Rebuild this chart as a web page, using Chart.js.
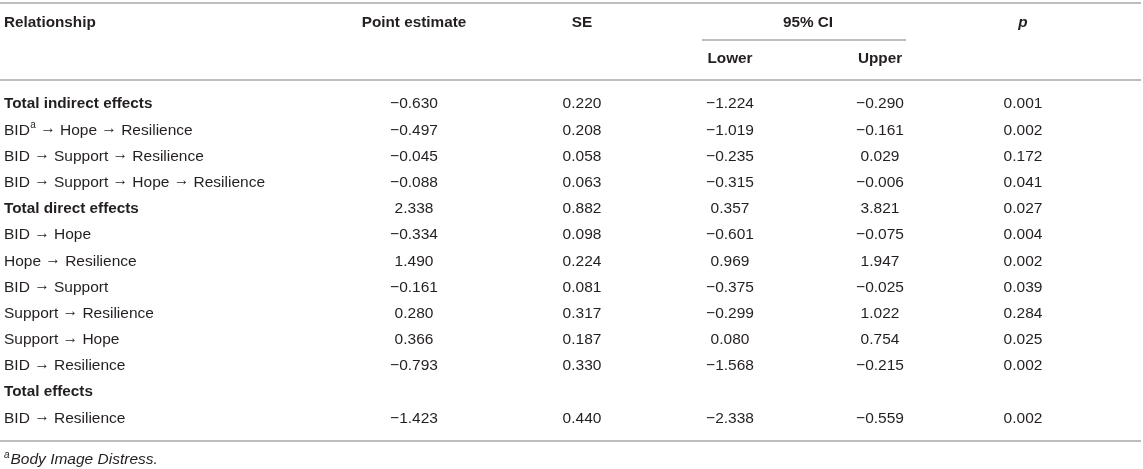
<!DOCTYPE html>
<html>
<head>
<meta charset="utf-8">
<script src="https://cdn.jsdelivr.net/npm/chart.js@4.4.1/dist/chart.umd.min.js"></script>
<style>
html,body{margin:0;padding:0;background:#ffffff;}
#wrap{width:1143px;height:469px;position:relative;}
</style>
</head>
<body>
<div id="wrap"><canvas id="c"></canvas></div>
<script>
// ---------- data ----------
const relationships = [
  'Total indirect effects',
  'BID → Hope → Resilience',
  'BID → Support → Resilience',
  'BID → Support → Hope → Resilience',
  'Total direct effects',
  'BID → Hope',
  'Hope → Resilience',
  'BID → Support',
  'Support → Resilience',
  'Support → Hope',
  'BID → Resilience',
  'Total effects',
  'BID → Resilience'
];
const rowBold = [true,false,false,false,true,false,false,false,false,false,false,true,false];
const rowNote = ['','a','','','','','','','','','','',''];
const pointEstimate = [-0.630,-0.497,-0.045,-0.088,2.338,-0.334,1.490,-0.161,0.280,0.366,-0.793,null,-1.423];
const seValues      = [0.220,0.208,0.058,0.063,0.882,0.098,0.224,0.081,0.317,0.187,0.330,null,0.440];
const ciLower       = [-1.224,-1.019,-0.235,-0.315,0.357,-0.601,0.969,-0.375,-0.299,0.080,-1.568,null,-2.338];
const ciUpper       = [-0.290,-0.161,0.029,-0.006,3.821,-0.075,1.947,-0.025,1.022,0.754,-0.215,null,-0.559];
const pValues       = [0.001,0.002,0.172,0.041,0.027,0.004,0.002,0.039,0.284,0.025,0.002,null,0.002];
const firstHeader = 'Relationship';
const columnHeaders = ['Point estimate','SE','Lower','Upper','p'];
const spanHeader = '95% CI';
const footnoteMark = 'a';
const footnoteText = 'Body Image Distress.';

// ---------- layout ----------
const FONT = '"Liberation Sans", Arial, Helvetica, sans-serif';
const COL_X = [414, 582, 730, 880, 1023];
const TEXT = '#231f20';
const RULE = '#bdbdbd';
const SIZE = 15.5;
const BOLD_SIZE = 15.3;
const columns = [pointEstimate, seValues, ciLower, ciUpper, pValues];

const fmt = v => (v < 0 ? '\u2212' : '') + Math.abs(v).toFixed(3);

function drawRich(ctx, str, x, y, size, weight) {
  const parts = str.split('→');
  parts.forEach((p, i) => {
    ctx.font = weight + ' ' + size + 'px ' + FONT;
    ctx.fillText(p, x, y);
    x += ctx.measureText(p).width;
    if (i < parts.length - 1) {
      ctx.font = 'normal ' + size + 'px ' + FONT;
      ctx.fillText('→', x, y - 1.5);
      x += ctx.measureText('→').width;
    }
  });
  return x;
}

const tablePlugin = {
  id: 'tablePlugin',
  afterDatasetsDraw(chart) {
    const ctx = chart.ctx;
    const ys = chart.scales.y;
    const area = chart.chartArea;
    ctx.save();
    ctx.textBaseline = 'middle';
    ctx.fillStyle = TEXT;

    // rules
    ctx.strokeStyle = RULE;
    ctx.lineWidth = 2;
    const hline = (x1, x2, y) => { ctx.beginPath(); ctx.moveTo(x1, y); ctx.lineTo(x2, y); ctx.stroke(); };
    hline(0, 1141, 3);
    hline(702, 906, 40);
    hline(0, 1141, area.top - 11);
    hline(0, 1141, area.bottom + 9.5);

    // header
    ctx.font = 'bold ' + BOLD_SIZE + 'px ' + FONT;
    ctx.textAlign = 'left';
    ctx.fillText(firstHeader, 4, 23);
    ctx.textAlign = 'center';
    ctx.fillText(columnHeaders[0], COL_X[0], 23);
    ctx.fillText(columnHeaders[1], COL_X[1], 23);
    ctx.fillText(spanHeader, (COL_X[2] + COL_X[3]) / 2 + 3, 23);
    ctx.fillText(columnHeaders[2], COL_X[2], 59);
    ctx.fillText(columnHeaders[3], COL_X[3], 59);
    ctx.font = 'italic bold ' + BOLD_SIZE + 'px ' + FONT;
    ctx.fillText(columnHeaders[4], COL_X[4], 23);

    // row labels
    ctx.textAlign = 'left';
    relationships.forEach((label, i) => {
      const y = ys.getPixelForValue(i);
      const weight = rowBold[i] ? 'bold' : 'normal';
      const size = rowBold[i] ? BOLD_SIZE : SIZE;
      let x = 4;
      if (rowNote[i]) {
        const sp = label.indexOf(' ');
        const head = label.slice(0, sp);
        const rest = label.slice(sp);
        ctx.font = weight + ' ' + size + 'px ' + FONT;
        ctx.fillText(head, x, y);
        x += ctx.measureText(head).width;
        ctx.font = weight + ' 10px ' + FONT;
        ctx.fillText(rowNote[i], x + 0.5, y - 5);
        x += ctx.measureText(rowNote[i]).width + 0.5;
        drawRich(ctx, rest, x, y, size, weight);
      } else {
        drawRich(ctx, label, x, y, size, weight);
      }
    });

    // cells, positioned by the datasets' elements
    ctx.textAlign = 'center';
    ctx.font = 'normal ' + SIZE + 'px ' + FONT;
    chart.data.datasets.forEach((ds, d) => {
      const meta = chart.getDatasetMeta(d);
      meta.data.forEach((el, i) => {
        const v = columns[d][i];
        if (v === null || v === undefined) return;
        ctx.fillText(fmt(v), el.x, el.y);
      });
    });

    // footnote
    ctx.textAlign = 'left';
    ctx.font = 'italic 10px ' + FONT;
    ctx.fillText(footnoteMark, 4, area.bottom + 24);
    ctx.font = 'italic ' + SIZE + 'px ' + FONT;
    ctx.fillText(footnoteText, 10.5, area.bottom + 28.5);
    ctx.restore();
  }
};

const datasets = columns.map((col, d) => ({
  label: columnHeaders[d],
  data: col.map((v, i) => ({ x: COL_X[d], y: relationships[i] })),
  pointRadius: 0,
  showLine: false
}));

new Chart(document.getElementById('c'), {
  type: 'scatter',
  data: { datasets },
  options: {
    responsive: true,
    maintainAspectRatio: false,
    animation: false,
    events: [],
    layout: { padding: { top: 91, bottom: 37.5, left: 0, right: 0 } },
    scales: {
      x: { type: 'linear', min: 0, max: 1143, display: false },
      y: { type: 'category', labels: relationships, offset: true, display: false }
    },
    plugins: { legend: { display: false }, tooltip: { enabled: false }, title: { display: false } }
  },
  plugins: [tablePlugin]
});
</script>
</body>
</html>
